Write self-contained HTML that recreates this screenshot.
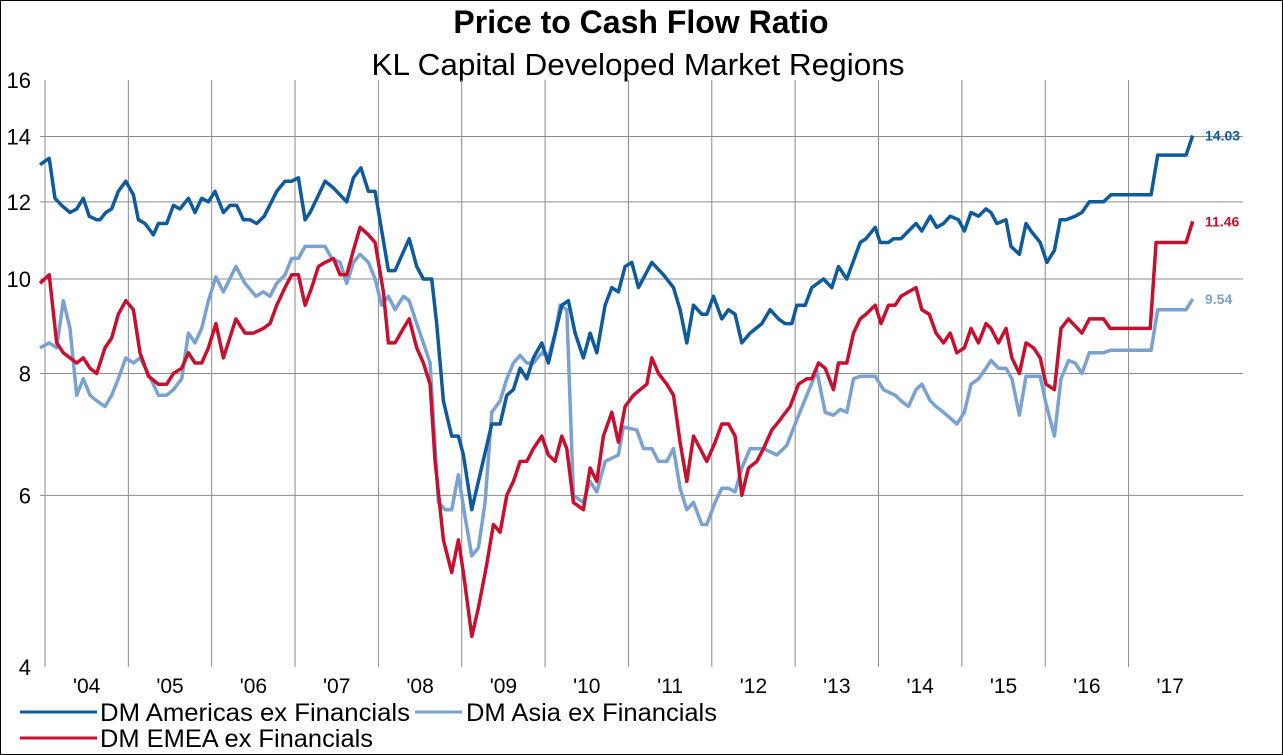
<!DOCTYPE html>
<html><head><meta charset="utf-8">
<style>
html,body{margin:0;padding:0;background:#fff;}
body{width:1283px;height:755px;overflow:hidden;font-family:"Liberation Sans",Arial,sans-serif;}
#frame{position:absolute;left:0;top:0;width:1281px;height:753px;border:1px solid #000;}
</style></head>
<body>
<div id="frame"></div>
<svg id="chart" width="1283" height="755" style="position:absolute;left:0;top:0">
  <text x="641" y="33" text-anchor="middle" font-size="32" font-weight="bold" fill="#000">Price to Cash Flow Ratio</text>
  <text x="638" y="75" text-anchor="middle" font-size="31" fill="#000" textLength="533" lengthAdjust="spacingAndGlyphs">KL Capital Developed Market Regions</text>
  <g id="grid"></g>
  <g id="series"></g>
  <g id="labels"></g>
  <g>
    <line x1="20" y1="712" x2="97" y2="712" stroke="#0f5a9a" stroke-width="3"/>
    <text x="100" y="721" font-size="25" fill="#000" textLength="310" lengthAdjust="spacingAndGlyphs">DM Americas ex Financials</text>
    <line x1="415" y1="712" x2="462" y2="712" stroke="#7aa1cf" stroke-width="3"/>
    <text x="466" y="721" font-size="25" fill="#000" textLength="251" lengthAdjust="spacingAndGlyphs">DM Asia ex Financials</text>
    <line x1="20" y1="738" x2="97" y2="738" stroke="#c5102f" stroke-width="3"/>
    <text x="100" y="747" font-size="25" fill="#000" textLength="273" lengthAdjust="spacingAndGlyphs">DM EMEA ex Financials</text>
  </g>
</svg>
<script>
const yTicks=[4,6,8,10,12,14,16];
const years=[2004,2005,2006,2007,2008,2009,2010,2011,2012,2013,2014,2015,2016,2017];
const yearLabels=["'04","'05","'06","'07","'08","'09","'10","'11","'12","'13","'14","'15","'16","'17"];

const amT=[2003.94,2004.05,2004.12,2004.20,2004.30,2004.38,2004.46,2004.53,2004.62,2004.66,2004.73,2004.80,2004.88,2004.97,2005.06,2005.12,2005.20,2005.30,2005.36,2005.46,2005.54,2005.62,2005.72,2005.80,2005.88,2005.96,2006.04,2006.14,2006.22,2006.30,2006.38,2006.46,2006.54,2006.63,2006.78,2006.88,2006.96,2007.04,2007.12,2007.18,2007.36,2007.46,2007.62,2007.70,2007.79,2007.88,2007.96,2008.12,2008.20,2008.37,2008.46,2008.54,2008.64,2008.70,2008.78,2008.88,2008.96,2009.02,2009.12,2009.20,2009.36,2009.46,2009.54,2009.62,2009.70,2009.78,2009.86,2009.96,2010.04,2010.20,2010.28,2010.36,2010.46,2010.54,2010.62,2010.72,2010.80,2010.88,2010.96,2011.04,2011.12,2011.28,2011.42,2011.54,2011.62,2011.70,2011.78,2011.88,2011.94,2012.02,2012.12,2012.20,2012.28,2012.36,2012.46,2012.60,2012.70,2012.80,2012.88,2012.96,2013.02,2013.12,2013.20,2013.34,2013.44,2013.52,2013.62,2013.78,2013.85,2013.96,2014.02,2014.12,2014.18,2014.27,2014.36,2014.45,2014.52,2014.62,2014.70,2014.78,2014.86,2014.96,2015.03,2015.11,2015.20,2015.29,2015.35,2015.42,2015.53,2015.59,2015.69,2015.77,2015.83,2015.94,2016.02,2016.11,2016.18,2016.25,2016.36,2016.44,2016.53,2016.70,2016.79,2017.27,2017.35,2017.69,2017.77];
const amV=[13.1,13.3,12.1,11.9,11.7,11.8,12.1,11.6,11.5,11.5,11.7,11.8,12.3,12.6,12.2,11.5,11.4,11.1,11.4,11.4,11.9,11.8,12.1,11.7,12.1,12.0,12.3,11.7,11.9,11.9,11.5,11.5,11.4,11.6,12.3,12.6,12.6,12.7,11.5,11.7,12.6,12.4,12.0,12.7,13.0,12.3,12.3,10.2,10.2,11.0,10.3,10.0,10.0,9.0,7.5,6.9,6.9,6.6,5.8,6.2,7.1,7.1,7.6,7.7,8.1,7.9,8.3,8.6,8.2,9.4,9.5,8.8,8.3,8.8,8.4,9.4,9.8,9.7,10.3,10.4,9.8,10.4,10.1,9.8,9.3,8.6,9.4,9.2,9.2,9.6,9.1,9.3,9.2,8.6,8.8,9.0,9.3,9.1,9.0,9.0,9.4,9.4,9.8,10.0,9.8,10.3,10.0,10.9,11.0,11.3,10.9,10.9,11.0,11.0,11.2,11.4,11.2,11.6,11.3,11.4,11.6,11.5,11.2,11.7,11.6,11.8,11.7,11.4,11.5,10.8,10.6,11.4,11.2,10.9,10.4,10.7,11.5,11.5,11.6,11.7,12.0,12.0,12.2,12.2,13.4,13.4,14.03];

const emT=[2003.94,2004.05,2004.14,2004.22,2004.38,2004.46,2004.54,2004.62,2004.72,2004.80,2004.88,2004.97,2005.06,2005.14,2005.24,2005.36,2005.46,2005.54,2005.64,2005.72,2005.80,2005.88,2005.96,2006.05,2006.14,2006.29,2006.40,2006.50,2006.62,2006.70,2006.78,2006.88,2006.96,2007.04,2007.12,2007.20,2007.28,2007.36,2007.46,2007.54,2007.62,2007.70,2007.78,2007.88,2007.96,2008.06,2008.12,2008.20,2008.30,2008.37,2008.46,2008.54,2008.62,2008.68,2008.78,2008.88,2008.96,2009.02,2009.12,2009.20,2009.30,2009.38,2009.46,2009.54,2009.62,2009.70,2009.78,2009.86,2009.96,2010.04,2010.12,2010.20,2010.26,2010.34,2010.46,2010.54,2010.62,2010.70,2010.80,2010.88,2010.96,2011.06,2011.14,2011.22,2011.28,2011.36,2011.46,2011.54,2011.62,2011.70,2011.78,2011.86,2011.94,2012.04,2012.12,2012.20,2012.28,2012.36,2012.44,2012.54,2012.62,2012.72,2012.78,2012.94,2013.04,2013.14,2013.20,2013.28,2013.36,2013.46,2013.52,2013.62,2013.70,2013.78,2013.85,2013.96,2014.03,2014.12,2014.20,2014.27,2014.36,2014.45,2014.52,2014.61,2014.69,2014.78,2014.86,2014.94,2015.03,2015.11,2015.20,2015.29,2015.35,2015.44,2015.53,2015.60,2015.69,2015.77,2015.86,2015.94,2016.01,2016.11,2016.19,2016.28,2016.44,2016.53,2016.70,2016.78,2017.26,2017.33,2017.69,2017.77];
const emV=[9.9,10.1,8.6,8.4,8.2,8.3,8.1,8.0,8.5,8.7,9.2,9.5,9.3,8.4,7.95,7.8,7.8,8.0,8.1,8.4,8.2,8.2,8.5,9.0,8.3,9.1,8.8,8.8,8.9,9.0,9.4,9.8,10.1,10.1,9.4,9.8,10.3,10.4,10.5,10.1,10.1,10.7,11.3,11.1,10.9,9.7,8.6,8.6,8.9,9.1,8.5,8.2,7.8,6.5,5.4,5.0,5.4,5.0,4.3,4.6,5.1,5.6,5.5,6.0,6.2,6.5,6.5,6.7,6.9,6.6,6.5,6.9,6.7,5.9,5.8,6.4,6.2,6.9,7.3,6.8,7.4,7.6,7.7,7.8,8.3,8.0,7.8,7.6,6.8,6.2,6.9,6.7,6.5,6.8,7.1,7.1,6.9,6.0,6.4,6.5,6.7,7.0,7.1,7.4,7.8,7.9,7.9,8.2,8.1,7.7,8.2,8.2,8.8,9.1,9.2,9.4,9.0,9.4,9.4,9.6,9.7,9.8,9.3,9.2,8.8,8.6,8.8,8.4,8.5,8.9,8.6,9.0,8.9,8.6,8.9,8.3,8.0,8.6,8.5,8.3,7.8,7.7,8.9,9.1,8.8,9.1,9.1,8.9,8.9,10.9,10.9,11.46];

const asT=[2003.94,2004.05,2004.14,2004.22,2004.30,2004.38,2004.46,2004.54,2004.62,2004.72,2004.80,2004.88,2004.97,2005.06,2005.14,2005.24,2005.36,2005.46,2005.54,2005.64,2005.72,2005.80,2005.88,2005.96,2006.05,2006.14,2006.29,2006.40,2006.53,2006.62,2006.70,2006.78,2006.88,2006.96,2007.04,2007.12,2007.22,2007.36,2007.44,2007.54,2007.62,2007.70,2007.78,2007.88,2007.96,2008.04,2008.12,2008.20,2008.30,2008.37,2008.46,2008.54,2008.62,2008.72,2008.80,2008.88,2008.96,2009.04,2009.12,2009.20,2009.28,2009.36,2009.46,2009.54,2009.62,2009.70,2009.78,2009.86,2009.96,2010.04,2010.12,2010.18,2010.26,2010.34,2010.46,2010.54,2010.62,2010.72,2010.80,2010.88,2010.94,2011.10,2011.18,2011.28,2011.36,2011.46,2011.54,2011.62,2011.70,2011.78,2011.88,2011.94,2012.04,2012.12,2012.20,2012.28,2012.36,2012.46,2012.62,2012.78,2012.90,2013.00,2013.14,2013.26,2013.36,2013.46,2013.54,2013.62,2013.70,2013.78,2013.85,2013.96,2014.06,2014.20,2014.27,2014.36,2014.45,2014.52,2014.62,2014.69,2014.78,2014.86,2014.94,2015.03,2015.11,2015.20,2015.29,2015.35,2015.44,2015.53,2015.60,2015.69,2015.77,2015.94,2016.01,2016.11,2016.19,2016.28,2016.36,2016.44,2016.53,2016.70,2016.78,2017.27,2017.35,2017.69,2017.77];
const asV=[8.5,8.6,8.5,9.5,8.9,7.6,7.9,7.6,7.5,7.4,7.6,7.9,8.3,8.2,8.3,8.0,7.6,7.6,7.7,7.9,8.8,8.6,8.9,9.5,10.05,9.7,10.3,9.9,9.6,9.7,9.6,9.9,10.1,10.5,10.5,10.8,10.8,10.8,10.5,10.4,9.9,10.4,10.6,10.4,10.0,9.4,9.6,9.3,9.6,9.5,9.0,8.6,8.2,5.9,5.8,5.8,6.3,5.7,5.2,5.3,5.9,7.3,7.5,7.9,8.2,8.35,8.2,8.2,8.4,8.3,8.8,9.4,9.3,6.0,5.9,6.2,6.05,6.5,6.55,6.6,7.05,7.0,6.7,6.7,6.5,6.5,6.7,6.1,5.8,5.9,5.6,5.6,5.9,6.1,6.1,6.05,6.4,6.7,6.7,6.6,6.75,7.1,7.6,8.05,7.3,7.25,7.35,7.3,7.9,7.95,7.95,7.95,7.7,7.6,7.5,7.4,7.7,7.8,7.5,7.4,7.3,7.2,7.1,7.3,7.8,7.9,8.1,8.25,8.1,8.1,7.9,7.25,7.95,7.95,7.45,6.9,7.9,8.25,8.2,8.0,8.4,8.4,8.45,8.45,9.3,9.3,9.54];

const PL=40,PR=1243,PT=80,PB=667;
function yS(v){return PB-(PB-PT)*Math.log(v/4)/Math.log(16/4);}
function xS(t){return 45+(t-2004)*83.35;}
const NS='http://www.w3.org/2000/svg';
const grid=document.getElementById('grid'),lab=document.getElementById('labels'),ser=document.getElementById('series');
function mk(tag,attrs,parent){const e=document.createElementNS(NS,tag);for(const k in attrs)e.setAttribute(k,attrs[k]);parent.appendChild(e);return e;}
yTicks.forEach(v=>{
  if(v>4&&v<16){const l=mk('line',{x1:PL,x2:PR,y1:yS(v),y2:yS(v),stroke:'#8c8c8c','stroke-width':1},grid);
    
    }
  const t=mk('text',{x:31,y:yS(v)+8,'text-anchor':'end','font-size':22,fill:'#000'},lab);
  
  
  t.textContent=v;
});
years.forEach((yr,i)=>{
  const l=mk('line',{x1:xS(yr),x2:xS(yr),y1:PT,y2:PB,stroke:'#8c8c8c','stroke-width':1},grid);
  
  
  const t=mk('text',{x:xS(yr+0.5),y:693,'text-anchor':'middle','font-size':21,fill:'#000'},lab);
  
  
  t.textContent=yearLabels[i];
});
function draw(T,V,color,name){
  const d=T.map((t,i)=>(i?'L':'M')+xS(t).toFixed(1)+','+yS(V[i]).toFixed(1)).join('');
  const p=mk('path',{d:d,fill:'none',stroke:color,'stroke-width':3.5,'stroke-linejoin':'round'},ser);
  
  
  const last=V[V.length-1];
  const t=mk('text',{x:1205,y:yS(last)+5,'font-size':14,'font-weight':'bold',fill:color},ser);
  
  
  t.textContent=last.toFixed(2);
}
draw(asT,asV,'#7aa1cf','asia');
draw(emT,emV,'#c5102f','emea');
draw(amT,amV,'#0f5a9a','americas');
</script>
</body></html>
